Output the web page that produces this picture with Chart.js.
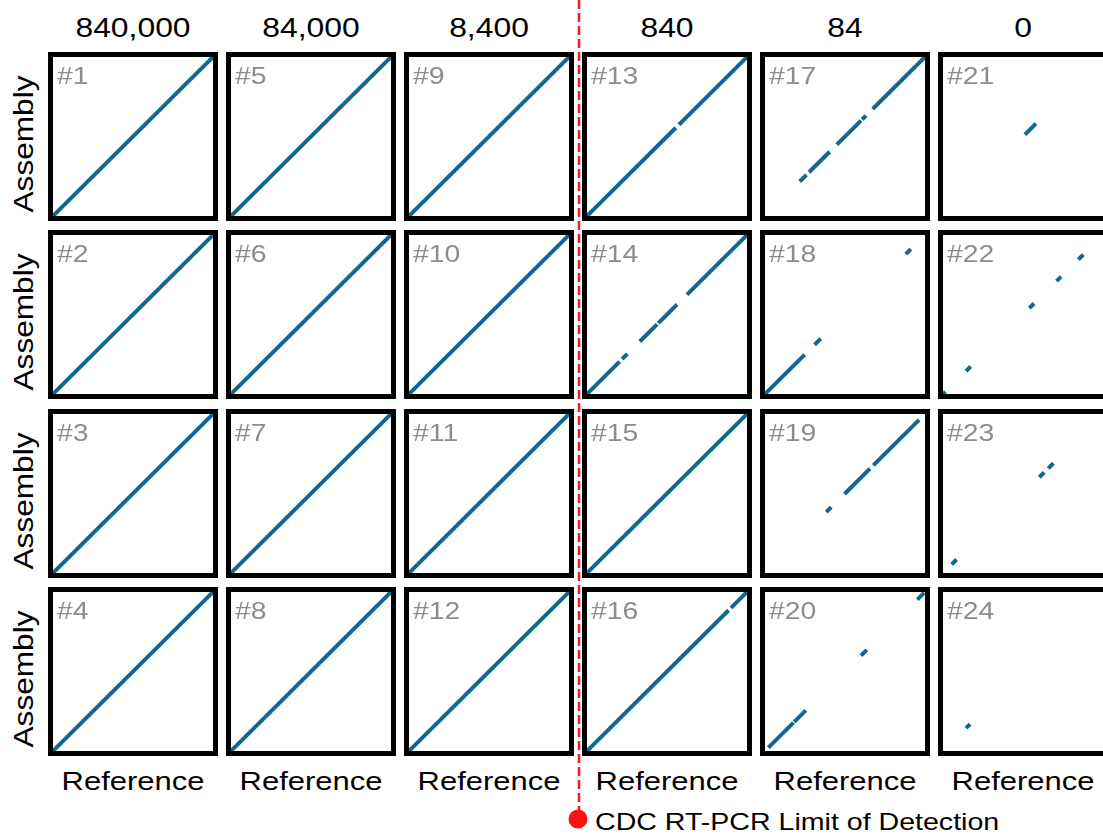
<!DOCTYPE html>
<html>
<head>
<meta charset="utf-8">
<script src="https://cdn.jsdelivr.net/npm/chart.js@4.4.1/dist/chart.umd.min.js"></script>
<style>
  html, body { margin:0; padding:0; background:#fff; }
  #root { position:relative; width:1103px; height:836px; overflow:hidden; font-family:"Liberation Sans", Arial, sans-serif; }
  .panel { position:absolute; box-sizing:border-box; border:5px solid #000; background:#fff; }
  .panel canvas { display:block; }
  .txt { position:absolute; white-space:nowrap; line-height:1; }
  .pid { color:#8c8c8c; }
</style>
</head>
<body>
<div id="root"></div>
<script>
// ---- data (positions along the reference genome, % of genome length) ----
const concentrations = ['840,000', '84,000', '8,400', '840', '84', '0'];
const sampleIds = [
  [1, 2, 3, 4], [5, 6, 7, 8], [9, 10, 11, 12],
  [13, 14, 15, 16], [17, 18, 19, 20], [21, 22, 23, 24]
];
const rowLabel = 'Assembly';
const colLabel = 'Reference';
const lodLabel = 'CDC RT-PCR Limit of Detection';

// aligned blocks [refStart, refEnd] per sample (assembly maps 1:1 onto reference)
const aligned840000 = [ [[0,100]], [[0,100]], [[0,100]], [[0,100]] ];
const aligned84000  = [ [[0,100]], [[0,100]], [[0,100]], [[0,100]] ];
const aligned8400   = [ [[0,100]], [[0,100]], [[0,100]], [[0,100]] ];
const aligned840    = [
  [[0,55.5],[57.5,100]],
  [[0,20.4],[22,25.2],[33,43.8],[44.6,56.3],[62.5,100]],
  [[0,100]],
  [[0,88.5],[90,100]]
];
const aligned84     = [
  [[21.7,25.9],[27.5,40.4],[44.9,60],[60.7,63.1],[67.3,100]],
  [[0,24.8],[31,34.8],[88,91.1]],
  [[38.3,41.4],[49.7,65.6],[67.7,96.3]],
  [[2.1,17.8],[18.3,25.5],[60,63.6],[95.2,99.5]]
];
const aligned0      = [
  [[51.2,58.1]],
  [[0,1.5],[14.4,17.3],[54,56.9],[71,73.8],[84.6,87.7]],
  [[5.4,8.5],[60.2,63.3],[65.8,69]],
  [[14.4,16.9]]
];
const alignedByColumn = [aligned840000, aligned84000, aligned8400, aligned840, aligned84, aligned0];

// ---- layout ----
const root = document.getElementById('root');
const COL0 = 48, COLSTEP = 178, ROW0 = 52, ROWSTEP = 178.3;
const PW = 170, PH = 169, BORDER = 5;
const LINE_COLOR = '#0f6890';

function addText(str, x, baseline, size, opts = {}) {
  const d = document.createElement('div');
  d.className = 'txt' + (opts.cls ? ' ' + opts.cls : '');
  d.textContent = str;
  d.style.fontSize = size + 'px';
  d.style.color = opts.color || '#000';
  const top = baseline - 0.8465 * size;
  d.style.top = top + 'px';
  const sx = opts.scaleX || 1.19;
  if (opts.align === 'center') {
    d.style.left = x + 'px';
    d.style.transform = `translateX(-50%) scaleX(${sx})`;
  } else {
    d.style.left = x + 'px';
    d.style.transformOrigin = '0 0';
    d.style.transform = `scaleX(${sx})`;
  }
  root.appendChild(d);
  return d;
}

function addRotated(str, cx, cy, size, sx) {
  const d = document.createElement('div');
  d.className = 'txt';
  d.textContent = str;
  d.style.fontSize = size + 'px';
  d.style.left = cx + 'px';
  d.style.top = cy + 'px';
  d.style.transform = `translate(-50%,-50%) rotate(-90deg) scaleX(${sx})`;
  root.appendChild(d);
}

// red limit-of-detection marker
const svgNS = 'http://www.w3.org/2000/svg';
const svg = document.createElementNS(svgNS, 'svg');
svg.setAttribute('width', 1103); svg.setAttribute('height', 836);
svg.style.position = 'absolute'; svg.style.left = '0'; svg.style.top = '0'; svg.style.zIndex = '5';
svg.style.pointerEvents = 'none';
const ln = document.createElementNS(svgNS, 'line');
ln.setAttribute('x1', 579); ln.setAttribute('x2', 579);
ln.setAttribute('y1', 0); ln.setAttribute('y2', 812);
ln.setAttribute('stroke', '#ff1a1a'); ln.setAttribute('stroke-width', 2.5);
ln.setAttribute('stroke-dasharray', '9 4');
svg.appendChild(ln);
const dot = document.createElementNS(svgNS, 'circle');
dot.setAttribute('cx', 578); dot.setAttribute('cy', 819); dot.setAttribute('r', 9.5);
dot.setAttribute('fill', '#ff1212');
svg.appendChild(dot);

concentrations.forEach((lab, c) => {
  const left = COL0 + c * COLSTEP;
  addText(lab, left + PW / 2, 38, 27, { align: 'center', scaleX: 1.18 });
  addText(colLabel, left + PW / 2, 790, 26, { align: 'center', scaleX: 1.19 });
});

for (let r = 0; r < 4; r++) {
  const top = Math.round(ROW0 + r * ROWSTEP);
  addRotated(rowLabel, 24, top + PH / 2 + 7, 27, 1.17);
}

alignedByColumn.forEach((col, c) => {
  col.forEach((blocks, r) => {
    const left = COL0 + c * COLSTEP;
    const top = Math.round(ROW0 + r * ROWSTEP);
    const p = document.createElement('div');
    p.className = 'panel';
    p.style.left = left + 'px'; p.style.top = top + 'px';
    p.style.width = PW + 'px'; p.style.height = PH + 'px';
    const cv = document.createElement('canvas');
    cv.width = PW - 2 * BORDER; cv.height = PH - 2 * BORDER;
    p.appendChild(cv);
    root.appendChild(p);

    new Chart(cv, {
      type: 'scatter',
      data: {
        datasets: blocks.map(b => ({
          data: [{ x: b[0], y: b[0] }, { x: b[1], y: b[1] }],
          showLine: true,
          borderColor: LINE_COLOR,
          borderWidth: 4,
          borderCapStyle: 'butt',
          pointRadius: 0,
          clip: 4
        }))
      },
      options: {
        responsive: false,
        animation: false,
        events: [],
        layout: { padding: 0 },
        plugins: { legend: { display: false }, tooltip: { enabled: false } },
        scales: {
          x: { type: 'linear', min: 0, max: 100, display: false },
          y: { type: 'linear', min: 0, max: 100, display: false }
        }
      }
    });

    addText('#' + sampleIds[c][r], left + 9, top + 32, 24, { cls: 'pid', color: '#8c8c8c', scaleX: 1.18 });
  });
});

root.appendChild(svg);
addText(lodLabel, 595, 830, 24, { scaleX: 1.19 });
</script>
</body>
</html>
